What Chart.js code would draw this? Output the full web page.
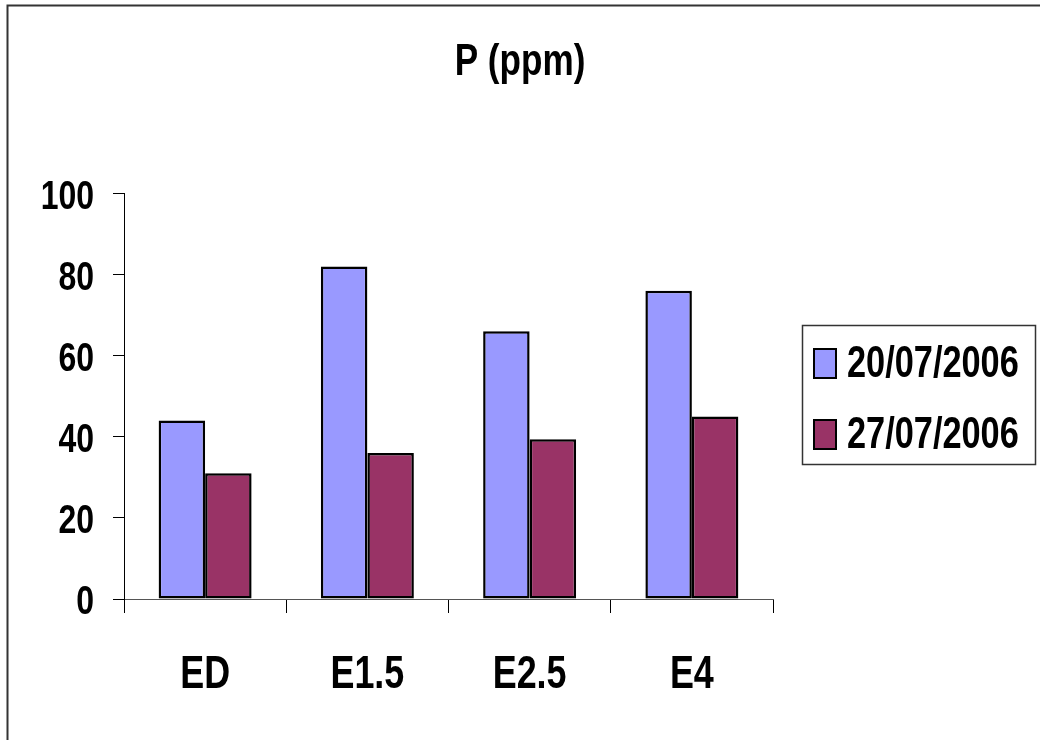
<!DOCTYPE html>
<html>
<head>
<meta charset="utf-8">
<script src="https://cdn.jsdelivr.net/npm/chart.js@4/dist/chart.umd.min.js"></script>
<style>
  html, body { margin: 0; padding: 0; background: #ffffff; }
  #wrap { width: 1040px; height: 740px; }
</style>
</head>
<body>
<div id="wrap"><canvas id="c" width="1040" height="740"></canvas></div>
<script>
const categories = ['ED', 'E1.5', 'E2.5', 'E4'];
const seriesLabels = ['20/07/2006', '27/07/2006'];
const seriesA = [44, 82, 66, 76];
const seriesB = [31, 36, 39.4, 45];
const yTicks = [0, 20, 40, 60, 80, 100];

const FONT = "'Liberation Sans', Arial, Helvetica, sans-serif";
const TEXT_SX = 0.78; // narrow, tall lettering
const colors = ['#9999FF', '#993366'];

// Draw all chart text horizontally condensed around its anchor point
const narrowText = {
  id: 'narrowText',
  afterInit(chart) {
    const ctx = chart.ctx;
    const orig = ctx.fillText;
    ctx.fillText = function (text, x, y, maxWidth) {
      this.save();
      this.translate(x, y);
      this.scale(TEXT_SX, 1);
      if (maxWidth !== undefined) orig.call(this, text, 0, 0, maxWidth / TEXT_SX);
      else orig.call(this, text, 0, 0);
      this.restore();
    };
  }
};

// Frame around the whole chart and the boxed legend on the right
const decor = {
  id: 'decor',
  beforeDraw(chart) {
    const ctx = chart.ctx;
    ctx.save();
    ctx.strokeStyle = '#333333';
    ctx.lineWidth = 2;
    ctx.beginPath();
    ctx.moveTo(7.5, 740);
    ctx.lineTo(7.5, 5.5);
    ctx.lineTo(1040, 5.5);
    ctx.stroke();
    ctx.restore();
  },
  afterDraw(chart) {
    const ctx = chart.ctx;
    ctx.save();
    const bx = 802, by = 325, bw = 233, bh = 139;
    ctx.strokeStyle = '#333333';
    ctx.lineWidth = 1.5;
    ctx.strokeRect(bx + 0.5, by + 0.5, bw, bh);
    chart.data.datasets.forEach((ds, i) => {
      const cy = 363.5 + i * 71;
      ctx.fillStyle = ds.backgroundColor;
      ctx.fillRect(814, cy - 14.5, 22, 29);
      ctx.strokeStyle = '#000000';
      ctx.lineWidth = 2;
      ctx.strokeRect(814, cy - 14.5, 22, 29);
      ctx.fillStyle = '#000000';
      ctx.font = 'bold 44px ' + FONT;
      ctx.textAlign = 'left';
      ctx.textBaseline = 'middle';
      ctx.fillText(ds.label, 847, cy + 1);
    });
    ctx.restore();
  }
};

new Chart(document.getElementById('c'), {
  type: 'bar',
  data: {
    labels: categories,
    datasets: [
      { label: seriesLabels[0], data: seriesA, backgroundColor: colors[0] },
      { label: seriesLabels[1], data: seriesB, backgroundColor: colors[1] }
    ]
  },
  options: {
    responsive: false,
    animation: false,
    devicePixelRatio: 1,
    layout: { padding: { left: 0, right: 0, top: 0, bottom: 0 } },
    datasets: {
      bar: {
        categoryPercentage: 0.573,
        barPercentage: 1.0,
        borderColor: '#000000',
        borderWidth: 2.5,
        borderSkipped: false
      }
    },
    plugins: {
      legend: { display: false },
      tooltip: { enabled: false },
      title: {
        display: true,
        text: 'P (ppm)',
        color: '#000000',
        font: { family: FONT, size: 45, weight: 'bold', lineHeight: 1.2 },
        padding: { top: 36, bottom: 103.5 }
      }
    },
    scales: {
      x: {
        grid: { display: true, drawOnChartArea: false, color: '#000000', tickLength: 14, offset: true },
        border: { display: true, color: '#555555', width: 1 },
        ticks: {
          color: '#000000',
          padding: 35,
          font: { family: FONT, size: 46, weight: 'bold' }
        },
        afterFit(s) { s.height = 141; }
      },
      y: {
        min: 0,
        max: 100,
        afterBuildTicks(s) { s.ticks = yTicks.map(v => ({ value: v })); },
        grid: { display: true, drawOnChartArea: false, color: '#000000', tickLength: 11 },
        border: { display: true, color: '#000000', width: 1 },
        ticks: {
          color: '#000000',
          padding: 19,
          labelOffset: 4,
          font: { family: FONT, size: 41, weight: 'bold' }
        },
        afterFit(s) { s.width = 124; }
      },
      side: {
        position: 'right',
        display: true,
        grid: { display: false },
        border: { display: false },
        ticks: { display: false },
        afterFit(s) { s.width = 267; }
      }
    }
  },
  plugins: [narrowText, decor]
});
</script>
</body>
</html>
